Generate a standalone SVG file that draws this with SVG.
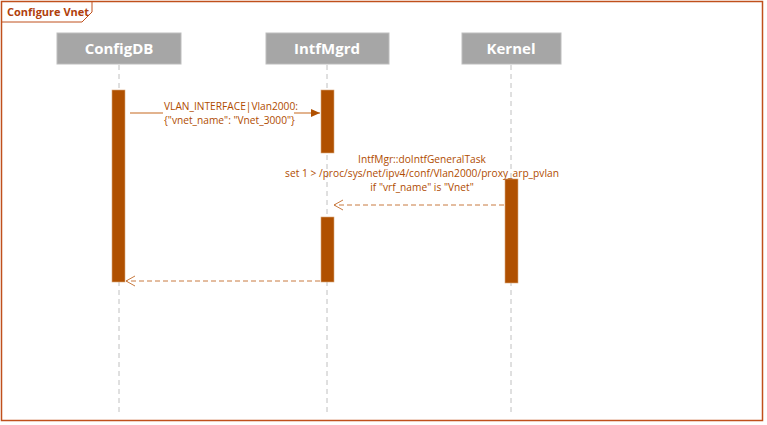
<svg xmlns="http://www.w3.org/2000/svg" width="767" height="425" viewBox="0 0 767 425">
<style>
.hdr{fill:#a6a6a6;stroke:#bdbdbd;stroke-width:1}
.hdrt{font-family:"Open Sans","Liberation Sans",sans-serif;font-weight:bold;font-size:15px;fill:#ffffff;text-anchor:middle}
.life{stroke:#c0c0c0;stroke-width:1;stroke-dasharray:5,4;fill:none}
.act{fill:#b05000;stroke:#d9a77a;stroke-width:0.6}
.msg{font-family:"Open Sans","Liberation Sans",sans-serif;font-size:10.2px;fill:#b04c00}
.sol{stroke:#d89a68;stroke-width:1.5;fill:none}
.dash{stroke:#c87a40;stroke-width:1;stroke-dasharray:5,3;fill:none}
</style>
<defs>
<marker id="fill" markerWidth="10" markerHeight="10" refX="9" refY="5" orient="auto" markerUnits="userSpaceOnUse">
<path d="M0,1 L9,5 L0,9 Z" fill="#b05000"/>
</marker>
<marker id="open" markerWidth="12" markerHeight="12" refX="10" refY="6" orient="auto" markerUnits="userSpaceOnUse">
<path d="M1,1 L10,6 L1,11" fill="none" stroke="#c87a40" stroke-width="1"/>
</marker>
</defs>
<rect x="0" y="0" width="767" height="425" fill="#ffffff"/>
<rect x="1.5" y="1.5" width="761" height="419" fill="none" stroke="#c0501c" stroke-width="1.5"/>
<path d="M1.5,22 L82,22 L92,12 L92,1.5" fill="none" stroke="#c0501c" stroke-width="1"/>
<text x="7" y="16" font-family="'Open Sans','Liberation Sans',sans-serif" font-size="11" font-weight="bold" fill="#b0400c">Configure Vnet</text>

<g id="configdb">
<rect class="hdr" x="57" y="33" width="124" height="31"/>
<text class="hdrt" x="119" y="54">ConfigDB</text>
<line class="life" x1="119" y1="65" x2="119" y2="415"/>
<rect class="act" x="112" y="90" width="13" height="192"/>
</g>
<g id="intfmgrd">
<rect class="hdr" x="266" y="33" width="123" height="31"/>
<text class="hdrt" x="327" y="54">IntfMgrd</text>
<line class="life" x1="327" y1="65" x2="327" y2="415"/>
<rect class="act" x="321" y="90" width="13" height="63"/>
<rect class="act" x="321" y="217" width="13" height="65"/>
</g>
<g id="kernel">
<rect class="hdr" x="462" y="33" width="99" height="31"/>
<text class="hdrt" x="511" y="54">Kernel</text>
<line class="life" x1="511" y1="65" x2="511" y2="415"/>
<rect class="act" x="505" y="179" width="13" height="104"/>
</g>

<g id="connectors">
<line class="sol" x1="130" y1="113" x2="163" y2="113"/>
<line class="sol" x1="294" y1="113" x2="320" y2="113" marker-end="url(#fill)"/>
<text class="msg" x="164" y="110">VLAN_INTERFACE|Vlan2000:</text>
<text class="msg" x="164" y="124">{"vnet_name": "Vnet_3000"}</text>

<text class="msg" x="422" y="163" text-anchor="middle">IntfMgr::doIntfGeneralTask</text>
<text class="msg" x="422" y="177" text-anchor="middle">set 1 &gt; /proc/sys/net/ipv4/conf/Vlan2000/proxy_arp_pvlan</text>
<text class="msg" x="422" y="191" text-anchor="middle">if "vrf_name" is "Vnet"</text>
<line class="dash" x1="504" y1="205" x2="334" y2="205" marker-end="url(#open)"/>

<line class="dash" x1="320" y1="281" x2="126" y2="281" marker-end="url(#open)"/>
</g>
</svg>
